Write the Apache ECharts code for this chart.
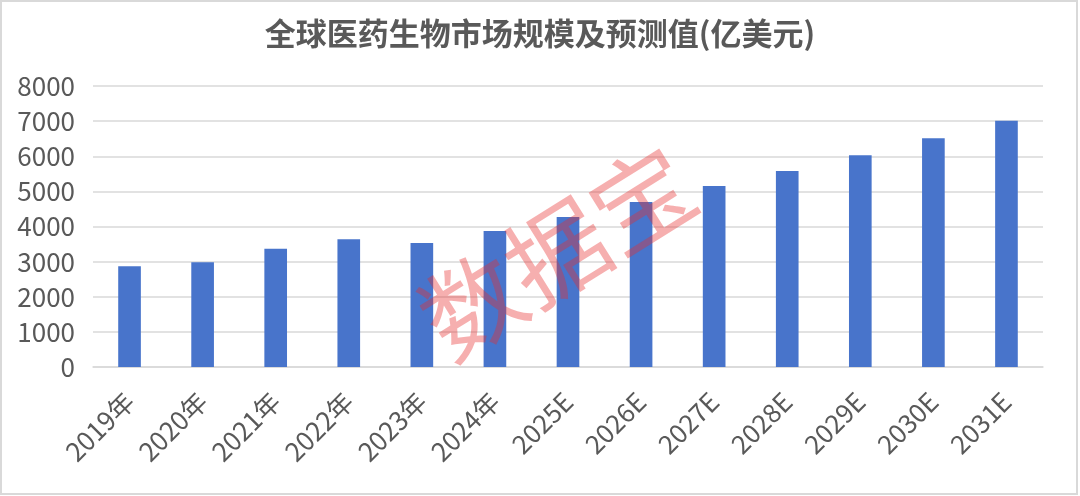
<!DOCTYPE html>
<html>
<head>
<meta charset="utf-8">
<script src="https://cdn.jsdelivr.net/npm/echarts@6/dist/echarts.min.js"></script>
<style>
    html, body {margin: 0; padding: 0; background: #fff;}
    #main {width: 1080px; height: 496px;}
</style>
</head>
<body>
<div id="main"></div>
<script>
// 年份 / 预测年份
var years = ['2019年', '2020年', '2021年', '2022年', '2023年', '2024年',
    '2025E', '2026E', '2027E', '2028E', '2029E', '2030E', '2031E'];
// 市场规模（亿美元）
var marketSize = [2865, 2979, 3368, 3634, 3529, 3871, 4269, 4696, 5152, 5579, 6025, 6509, 7011];
var yTicks = [0, 1000, 2000, 3000, 4000, 5000, 6000, 7000, 8000];

var fontCN = '"Noto Sans CJK SC", "Noto Sans", sans-serif';

var option = {
    backgroundColor: '#fff',
    animation: false,
    title: {
        text: '全球医药生物市场规模及预测值(亿美元)',
        left: 'center',
        top: 13,
        textStyle: {
            fontFamily: fontCN,
            fontSize: 31,
            fontWeight: 'bold',
            color: '#595959'
        }
    },
    grid: {
        left: 93,
        right: 37,
        top: 86,
        bottom: 129,
        containLabel: false
    },
    xAxis: [
        {
            type: 'category',
            data: years,
            axisTick: {show: false},
            axisLine: {lineStyle: {color: '#D9D9D9', width: 1.5}},
            axisLabel: {
                rotate: 45,
                margin: 30,
                interval: 0,
                fontFamily: fontCN,
                fontSize: 26,
                color: '#595959'
            }
        }
    ],
    yAxis: [
        {
            type: 'value',
            min: yTicks[0],
            max: yTicks[yTicks.length - 1],
            interval: 1000,
            axisLine: {show: false},
            axisTick: {show: false},
            splitLine: {lineStyle: {color: '#D9D9D9', width: 1.5}},
            axisLabel: {
                margin: 18,
                fontFamily: fontCN,
                fontSize: 26,
                color: '#595959',
                formatter: function (value) {
                    return String(value);
                }
            }
        }
    ],
    series: [
        {
            name: '市场规模',
            type: 'bar',
            barWidth: '31%',
            data: marketSize,
            itemStyle: {color: '#4874CB'}
        }
    ],
    graphic: [
        // 外框
        {
            type: 'rect',
            shape: {x: 1, y: 1, width: 1076, height: 493},
            style: {fill: 'none', stroke: '#D9D9D9', lineWidth: 2},
            silent: true
        },
        // 水印
        {
            type: 'text',
            x: 557,
            y: 252,
            rotation: Math.PI * 32 / 180,
            z: 100,
            silent: true,
            style: {
                text: '数据宝',
                fontFamily: fontCN,
                fontSize: 100,
                fill: 'rgba(232, 45, 45, 0.38)',
                align: 'center',
                verticalAlign: 'middle'
            }
        }
    ]
};

var myChart = echarts.init(document.getElementById('main'));
myChart.setOption(option, true);
</script>
</body>
</html>
